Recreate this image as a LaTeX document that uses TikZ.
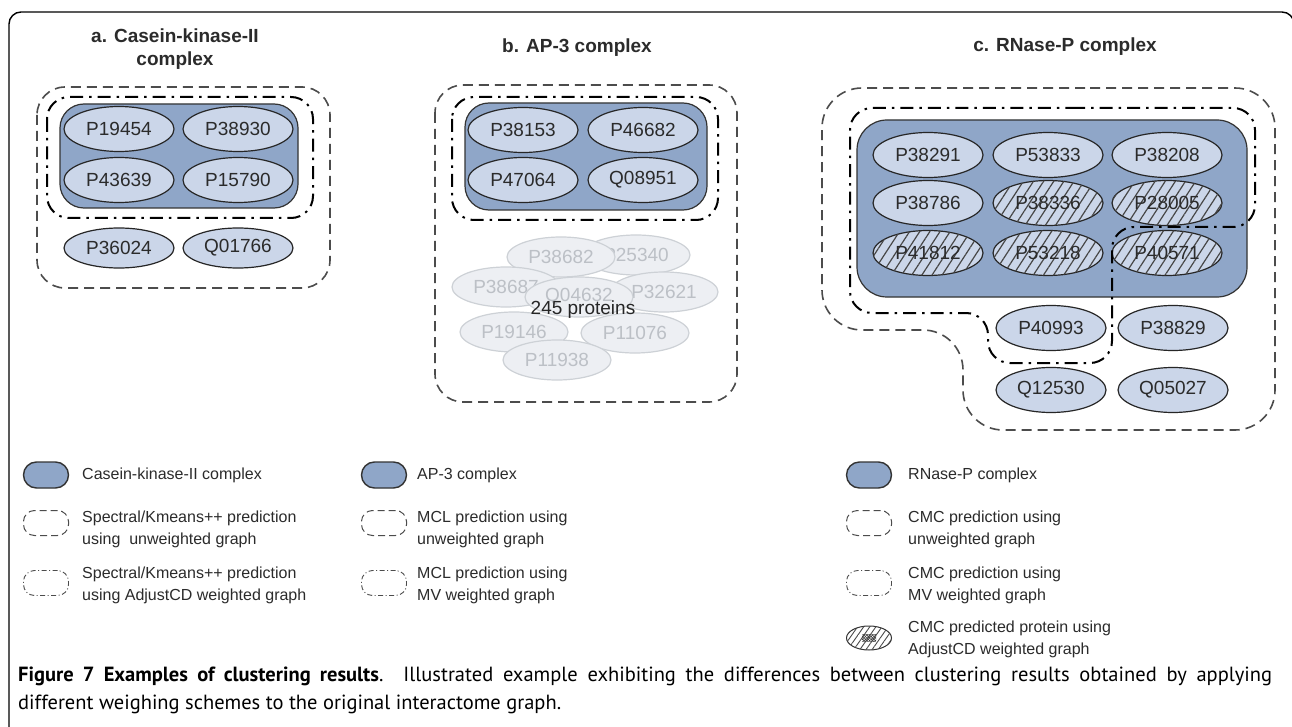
\documentclass[tikz,border=0pt]{standalone}
\usepackage{fontspec}
\setmainfont{Liberation Sans}
\newfontfamily\capfont{PT Sans}
\usetikzlibrary{shapes,patterns.meta}

\definecolor{cplxblue}{HTML}{8FA6C8}
\definecolor{protblue}{HTML}{CBD6E9}
\definecolor{inkgray}{HTML}{2B2B2B}
\definecolor{fadefill}{HTML}{EDEFF3}
\definecolor{fadeline}{HTML}{CDD1D6}
\definecolor{fadetext}{HTML}{BCC0C6}

\tikzset{unweighted/.style={draw=black!70, line width=1.6pt, dash pattern=on 10pt off 6pt, rounded corners=28pt}}
\tikzset{weighted/.style={draw=black, line width=2pt, dash pattern=on 13pt off 6pt on 2.5pt off 6pt, rounded corners=22pt}}
\tikzset{complexbox/.style={draw=black!80, line width=1.2pt, fill=cplxblue, rounded corners=24pt}}
\tikzset{protein/.style={draw=black!85, line width=1.2pt, fill=protblue, shape=ellipse, minimum width=110pt, minimum height=45pt, inner sep=0pt, font=\fontsize{19}{22}\selectfont}}
\tikzset{predicted/.style={protein, postaction={pattern={Lines[angle=57,distance=8.5pt,line width=1.2pt]}, pattern color=black!72}}}
\tikzset{faded/.style={protein, draw=fadeline, fill=fadefill, text=fadetext, minimum width=108pt, minimum height=40pt}}
\tikzset{paneltitle/.style={font=\bfseries\fontsize{19}{23}\selectfont, align=center}}
\tikzset{keytext/.style={anchor=west, align=left, inner sep=0pt, font=\fontsize{16}{22}\selectfont}}
\tikzset{keycomplex/.style={shape=rectangle, draw=black!80, line width=1.4pt, fill=cplxblue, rounded corners=13pt, minimum width=45pt, minimum height=26pt, inner sep=0pt}}
\tikzset{keydash/.style={shape=rectangle, draw=black!70, line width=1pt, dash pattern=on 7pt off 4pt, rounded corners=11pt, minimum width=45pt, minimum height=25pt, inner sep=0pt}}
\tikzset{keydashdot/.style={shape=rectangle, draw=black!70, line width=0.9pt, dash pattern=on 5pt off 2.5pt on 1pt off 2.5pt, rounded corners=11pt, minimum width=45pt, minimum height=25pt, inner sep=0pt}}
\tikzset{keyhatch/.style={shape=ellipse, draw=black!80, line width=1pt, minimum width=45pt, minimum height=24pt, inner sep=0pt, postaction={pattern={Lines[angle=55,distance=5pt,line width=0.9pt]}, pattern color=black!70}}}
\tikzset{keypatch/.style={shape=rectangle, minimum width=14pt, minimum height=7pt, inner sep=0pt, pattern={Hatch[angle=45,distance=2pt,line width=0.6pt]}, pattern color=black!75}}

\begin{document}
\begin{tikzpicture}[x=1pt, y=-1pt]
	% Default action for each node
	\tikzstyle{every node}=[text=inkgray];

	\useasboundingbox[fill=white] (0,0) rectangle (1292,727);
	\draw[line width=1.4pt, rounded corners=12pt] (9,727) -- (9,12) -- (1294,12) -- (1294,80);

	% Titles
	\node[paneltitle] (titlea) at (175,49) {a. Casein-kinase-II\\complex};
	\node[paneltitle] (titleb) at (577,48) {b. AP-3 complex};
	\node[paneltitle] (titlec) at (1065,47) {c. RNase-P complex};

	% Casein-kinase-II
	\draw[unweighted] (37,87) rectangle (330,288);
	\draw[weighted] (47,97) rectangle (313,218);
	\draw[complexbox] (60,104) rectangle (298,208);
	\node[protein] (ar1c1) at (119,129) {P19454};	\node[protein] (ar1c2) at (238,129) {P38930};
	\node[protein] (ar2c1) at (119,180) {P43639};	\node[protein] (ar2c2) at (238,180) {P15790};
	\node[protein, minimum height=40pt] (ar3c1) at (119,248) {P36024};	\node[protein, minimum height=40pt] (ar3c2) at (238,248) {Q01766};

	% AP-3
	\draw[unweighted] (435,85) rectangle (737,402);
	\draw[weighted] (452,97) rectangle (718,220);
	\draw[complexbox] (465,103) rectangle (707,210);
	\node[protein] (br1c1) at (523,130) {P38153};	\node[protein] (br1c2) at (643,130) {P46682};
	\node[protein] (br2c1) at (523,180) {P47064};	\node[protein] (br2c2) at (643,180) {Q08951};

	% the other 245 proteins
	\node[faded] (bx3) at (636,255) {P25340};
	\node[faded] (bx1) at (561,257) {P38682};
	\node[faded] (bx2) at (506,287) {P38687};
	\node[faded] (bx4) at (664,292) {P32621};
	\node[faded] (bx5) at (579,297) {Q04632};
	\node[faded] (bx6) at (514,332) {P19146};
	\node[faded] (bx7) at (635,333) {P11076};
	\node[faded] (bx8) at (557,360) {P11938};
	\node[font=\fontsize{19}{22}\selectfont, text=black!85] (bcount) at (583,310) {245 proteins};

	% RNase-P
	\draw[unweighted, rounded corners=40pt] (1050,88) -- (1275,88) -- (1275,430) -- (963,430) -- (963,330) -- (822,330) -- (822,88) -- cycle;
	\draw[complexbox, rounded corners=30pt] (857,120) rectangle (1247,297);
	\node[protein] (cr1c1) at (928,155) {P38291};	\node[protein] (cr1c2) at (1048,155) {P53833};	\node[protein] (cr1c3) at (1167,155) {P38208};
	\node[protein] (cr2c1) at (928,203) {P38786};	\node[predicted] (cr2c2) at (1048,203) {P38336};	\node[predicted] (cr2c3) at (1167,203) {P28005};
	\node[predicted] (cr3c1) at (928,253) {P41812};	\node[predicted] (cr3c2) at (1048,253) {P53218};	\node[predicted] (cr3c3) at (1167,253) {P40571};
	\node[protein] (cr4c2) at (1051,328) {P40993};	\node[protein] (cr4c3) at (1173,328) {P38829};
	\node[protein] (cr5c2) at (1051,390) {Q12530};	\node[protein] (cr5c3) at (1173,390) {Q05027};
	\draw[weighted] (1050,108) -- (1255,108) -- (1255,227) -- (1112,227) -- (1112,363) -- (988,363) -- (988,313) -- (850,313) -- (850,108) -- cycle;

	% Legends
	\node[keycomplex] (keya1) at (46,475) {};	\node[keytext] (texta1) at (82,475) {Casein-kinase-II complex};
	\node[keydash] (keya2) at (46,523) {};		\node[keytext] (texta2) at (82,529) {Spectral/Kmeans++ prediction\\using\ \ unweighted graph};
	\node[keydashdot] (keya3) at (46,583) {};	\node[keytext] (texta3) at (82,585) {Spectral/Kmeans++ prediction\\using AdjustCD weighted graph};

	\node[keycomplex] (keyb1) at (384,475) {};	\node[keytext] (textb1) at (417,475) {AP-3 complex};
	\node[keydash] (keyb2) at (384,523) {};		\node[keytext] (textb2) at (417,529) {MCL prediction using\\unweighted graph};
	\node[keydashdot] (keyb3) at (384,583) {};	\node[keytext] (textb3) at (417,585) {MCL prediction using\\MV weighted graph};

	\node[keycomplex] (keyc1) at (869,475) {};	\node[keytext] (textc1) at (908,475) {RNase-P complex};
	\node[keydash] (keyc2) at (869,523) {};		\node[keytext] (textc2) at (908,529) {CMC prediction using\\unweighted graph};
	\node[keydashdot] (keyc3) at (869,583) {};	\node[keytext] (textc3) at (908,585) {CMC prediction using\\MV weighted graph};
	\node[keyhatch] (keyc4) at (869,638) {};	\node[keypatch] (keyc4patch) at (869,638) {};
	\node[keytext] (textc4) at (908,639) {CMC predicted protein using\\AdjustCD weighted graph};

	% Caption
	\node[anchor=west, inner sep=0pt, text=black, font=\capfont\fontsize{20.5}{24}\selectfont] (cap1) at (18,676) {\makebox[1254pt][s]{\textbf{Figure 7 Examples of clustering results}. Illustrated example exhibiting the differences between clustering results obtained by applying}};
	\node[anchor=west, inner sep=0pt, text=black, font=\capfont\fontsize{20.5}{24}\selectfont] (cap2) at (18,704) {different weighing schemes to the original interactome graph.};
\end{tikzpicture}
\end{document}
